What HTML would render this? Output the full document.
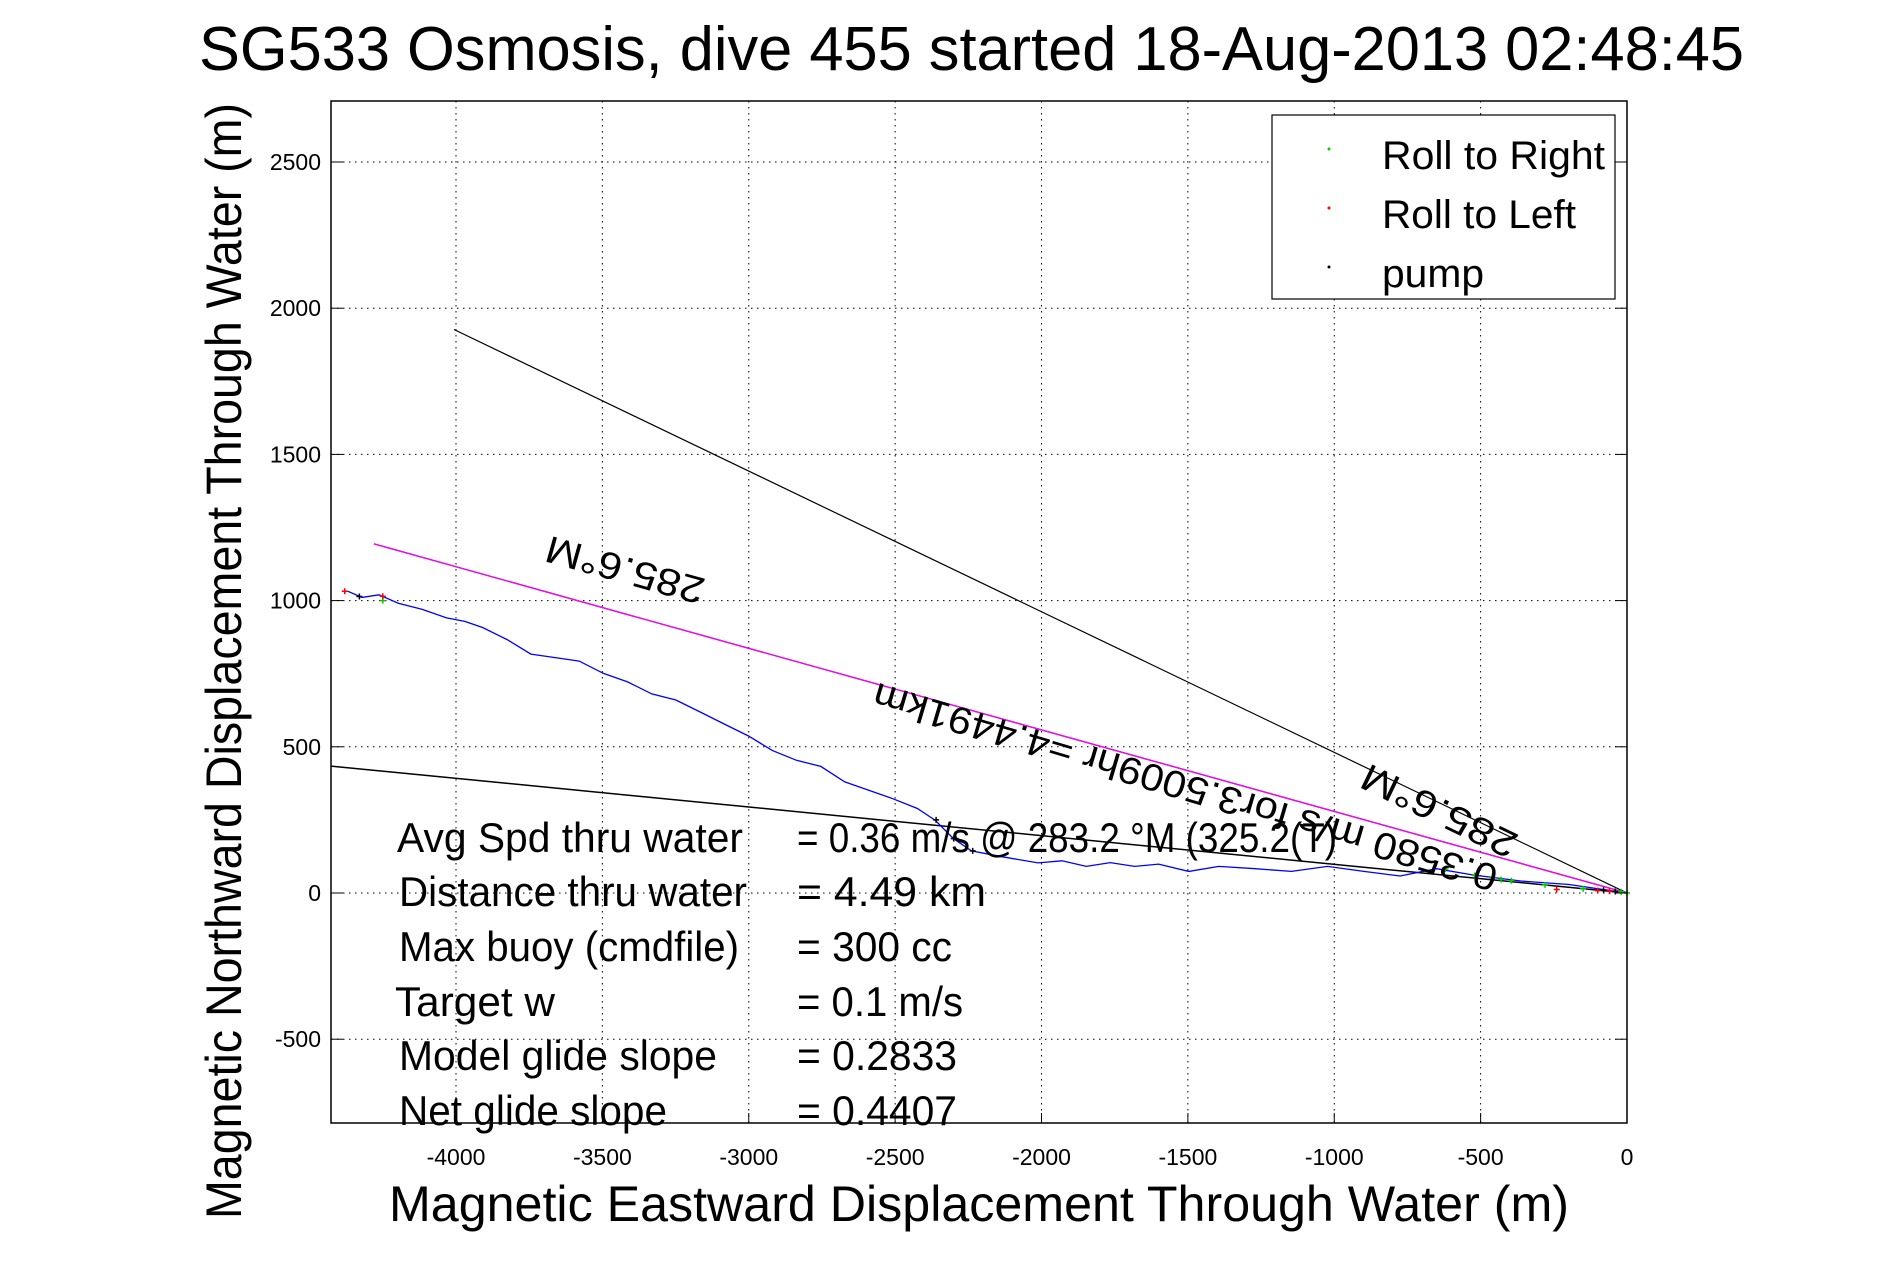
<!DOCTYPE html>
<html><head><meta charset="utf-8"><style>
html,body{margin:0;padding:0;background:#fff}
svg{display:block;font-family:"Liberation Sans",sans-serif}
</style></head><body>
<svg id="chart" width="1891" height="1262" viewBox="0 0 1891 1262" xmlns="http://www.w3.org/2000/svg">
<rect width="1891" height="1262" fill="#fff"/>
<g id="grid"></g>
<g id="marks"></g>
<rect x="331" y="101" width="1296" height="1022" fill="none" stroke="#000" stroke-width="1.5"/>
<g id="ticks"></g>
<text x="199" y="70" font-size="62" textLength="1545" lengthAdjust="spacingAndGlyphs">SG533 Osmosis, dive 455 started 18-Aug-2013 02:48:45</text>
<text x="389" y="1221" font-size="50" textLength="1180" lengthAdjust="spacingAndGlyphs">Magnetic Eastward Displacement Through Water (m)</text>
<text transform="translate(241,1219) rotate(-90)" x="0" y="0" font-size="50" textLength="1116" lengthAdjust="spacingAndGlyphs">Magnetic Northward Displacement Through Water (m)</text>
<g font-size="42">
<text x="397" y="852" textLength="346" lengthAdjust="spacingAndGlyphs">Avg Spd thru water</text>
<text x="797" y="852" textLength="540" lengthAdjust="spacingAndGlyphs">=  0.36 m/s @ 283.2 °M (325.2(T)</text>
<text x="399" y="906" textLength="348" lengthAdjust="spacingAndGlyphs">Distance thru water</text>
<text x="797" y="906" textLength="189" lengthAdjust="spacingAndGlyphs">=  4.49 km</text>
<text x="399" y="961" textLength="340" lengthAdjust="spacingAndGlyphs">Max buoy (cmdfile)</text>
<text x="797" y="961" textLength="155" lengthAdjust="spacingAndGlyphs">= 300 cc</text>
<text x="395" y="1016" textLength="160" lengthAdjust="spacingAndGlyphs">Target w</text>
<text x="797" y="1016" textLength="166" lengthAdjust="spacingAndGlyphs">= 0.1 m/s</text>
<text x="399" y="1070" textLength="318" lengthAdjust="spacingAndGlyphs">Model glide slope</text>
<text x="797" y="1070" textLength="160" lengthAdjust="spacingAndGlyphs">= 0.2833</text>
<text x="399" y="1125" textLength="268" lengthAdjust="spacingAndGlyphs">Net glide slope</text>
<text x="797" y="1125" textLength="160" lengthAdjust="spacingAndGlyphs">= 0.4407</text>
</g>
<g font-size="38" text-anchor="middle">
<text transform="translate(625,570) rotate(195.6)" y="13" textLength="163" lengthAdjust="spacingAndGlyphs">285.6°M</text>
<text transform="translate(1185,787) rotate(196.5)" y="13" textLength="649" lengthAdjust="spacingAndGlyphs">0.3580 m/s for3.5009hr =4.4491km</text>
<text transform="translate(1439,811) rotate(205.7)" y="13" textLength="168" lengthAdjust="spacingAndGlyphs">285.6°M</text>
</g>
<g>
<rect x="1272" y="115" width="343" height="184" fill="#fff" stroke="#000" stroke-width="1.2"/>
<circle cx="1329" cy="149" r="1.5" fill="#0c0"/>
<text x="1382" y="169" font-size="40" textLength="223" lengthAdjust="spacingAndGlyphs">Roll to Right</text>
<circle cx="1329" cy="208" r="1.5" fill="#f00"/>
<text x="1382" y="228" font-size="40" textLength="194" lengthAdjust="spacingAndGlyphs">Roll to Left</text>
<circle cx="1329" cy="267" r="1.5" fill="#000"/>
<text x="1382" y="287" font-size="40" textLength="102" lengthAdjust="spacingAndGlyphs">pump</text>
</g>
</svg>
<script>
const xTicks = [-4000,-3500,-3000,-2500,-2000,-1500,-1000,-500,0];
const yTicks = [-500,0,500,1000,1500,2000,2500];
const trackX = [-4370,-4321,-4263,-4197,-4115,-4032,-3970,-3909,-3826,-3744,-3661,-3579,-3496,-3414,-3331,-3249,-3166,-3084,-3001,-2919,-2837,-2754,-2672,-2589,-2507,-2424,-2362,-2301,-2239,-2136,-2012,-1930,-1847,-1765,-1682,-1600,-1497,-1394,-1270,-1146,-1023,-899,-775,-651,-528,-363,-198,0];
const trackY = [1032,1011,1020,991,970,941,929,908,867,817,805,793,751,722,681,660,619,578,537,487,454,433,380,351,322,289,248,186,144,124,103,110,91,104,91,99,74,91,83,74,91,74,58,83,62,41,29,0];
const headingLineX = [-4280,0];
const headingLineY = [1194,0];
const upperLineX = [-4007,0];
const upperLineY = [1927,0];
const lowerLineX = [-4427,0];
const lowerLineY = [434,0];
const rightRollX = [-4250,-620,-520,-460,-430,-395,-280,-150,-20,0];
const rightRollY = [1000,82,60,52,46,42,28,14,4,0];
const leftRollX = [-4380,-4250,-240,-100,-60];
const leftRollY = [1032,1015,12,8,6];
const pumpX = [-4330,-2360,-2300,-2235,-80,-40];
const pumpY = [1014,250,186,144,10,5];

const X0 = 1627, Y0 = 893, PX = 0.29275, PY = 0.2924;
const sx = v => X0 + v * PX;
const sy = v => Y0 - v * PY;
const NS = 'http://www.w3.org/2000/svg';
function mk(tag, attrs, parent){const e=document.createElementNS(NS,tag);for(const k in attrs)e.setAttribute(k,attrs[k]);parent.appendChild(e);return e;}
const grid=document.getElementById('grid'), ticks=document.getElementById('ticks'), marks=document.getElementById('marks');

xTicks.forEach(t=>{
  const x=sx(t);
  const g=mk('line',{x1:x,y1:101,x2:x,y2:1123,stroke:'#000','stroke-width':1,'stroke-dasharray':'1.5,4.5'},grid);
  
  
  const tk=mk('line',{x1:x,y1:1123,x2:x,y2:1113,stroke:'#000','stroke-width':1},ticks);
  
  
  const lb=mk('text',{x:x,y:1165,'font-size':23,'text-anchor':'middle'},ticks);
  
  
  lb.textContent=String(t);
});
yTicks.forEach(t=>{
  const y=sy(t);
  const g=mk('line',{x1:331,y1:y,x2:1627,y2:y,stroke:'#000','stroke-width':1,'stroke-dasharray':'1.5,4.5'},grid);
  
  
  const tk=mk('line',{x1:331,y1:y,x2:343,y2:y,stroke:'#000','stroke-width':1},ticks);
  
  
  const tk2=mk('line',{x1:1627,y1:y,x2:1615,y2:y,stroke:'#000','stroke-width':1},ticks);
  
  
  const lb=mk('text',{x:321,y:y+8,'font-size':23,'text-anchor':'end'},ticks);
  
  
  lb.textContent=String(t);
});

function poly(xs,ys,color,name,w){
  const pts=xs.map((v,i)=>sx(v).toFixed(1)+','+sy(ys[i]).toFixed(1)).join(' ');
  const p=mk('polyline',{points:pts,fill:'none',stroke:color,'stroke-width':w},marks);
  
  
}
poly(upperLineX,upperLineY,'#000','upper-bound-line',1.2);
poly(lowerLineX,lowerLineY,'#000','lower-bound-line',1.5);
poly(headingLineX,headingLineY,'#000','heading-line-black',1.3);
poly(headingLineX,headingLineY,'#f0f','heading-line',1.3);
poly(trackX,trackY,'#00f','glider-track',1.3);

function dots(xs,ys,color,name){
  xs.forEach((v,i)=>{
    const x=sx(v), y=sy(ys[i]);
    const g=mk('path',{d:`M${x-3},${y}H${x+3}M${x},${y-3}V${y+3}`,stroke:color,'stroke-width':1.5},marks);
    
    
  });
}
dots(rightRollX,rightRollY,'#0c0','roll-right-point');
dots(leftRollX,leftRollY,'#f00','roll-left-point');
dots(pumpX,pumpY,'#000','pump-point');
</script>
</body></html>
